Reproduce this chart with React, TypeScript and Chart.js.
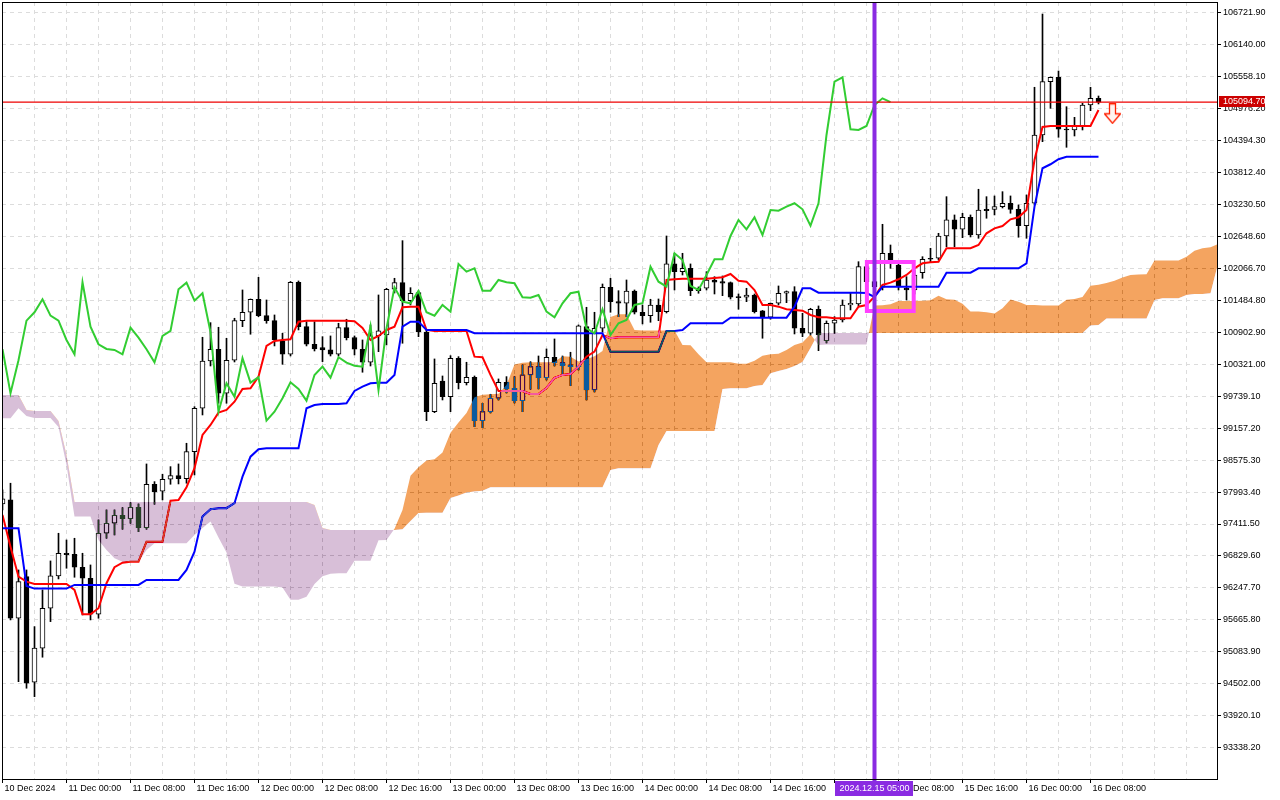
import React, { useEffect, useRef } from "react";
import { Chart, registerables } from "chart.js";

// ---------------- data (hourly BTC candles, bar index 0 = 10 Dec 16:00) ----------------
const xTickLabels = [
  "10 Dec 2024", "11 Dec 00:00", "11 Dec 08:00", "11 Dec 16:00", "12 Dec 00:00", "12 Dec 08:00",
  "12 Dec 16:00", "13 Dec 00:00", "13 Dec 08:00", "13 Dec 16:00", "14 Dec 00:00", "14 Dec 08:00",
  "14 Dec 16:00", "15 Dec 00:00", "15 Dec 08:00", "15 Dec 16:00", "16 Dec 00:00", "16 Dec 08:00",
];
const xLabelBars = [0, 8, 16, 24, 32, 40, 48, 56, 64, 72, 80, 88, 96, 104, 112, 120, 128, 136];
const xGridBars = [
  0, 4, 8, 12, 16, 20, 24, 28, 32, 36, 40, 44, 48, 52, 56, 60, 64, 68, 72, 76, 80, 84, 88, 92, 96,
  100, 104, 108, 112, 116, 120, 124, 128, 132, 136, 140, 144, 148,
];
const yTicks = [
  106721.9, 106140.0, 105558.1, 104976.2, 104394.3, 103812.4, 103230.5, 102648.6, 102066.7, 101484.8,
  100902.9, 100321.0, 99739.1, 99157.2, 98575.3, 97993.4, 97411.5, 96829.6, 96247.7, 95665.8,
  95083.9, 94502.0, 93920.1, 93338.2,
];
const yMin = 92768.3;
const yMax = 106916.7;
const xMin = -0.0625;
const xMax = 151.8125;

const opens = [
  97777, 97850, 95696, 96453, 94531, 95150, 95878, 96466, 96879, 96861,
  96624, 96424, 95769, 97243, 97425, 97571, 97509, 97717, 97345, 98135,
  98008, 98227, 98292, 98237, 98729, 99519, 100380, 100593, 99792, 100393,
  101114, 101267, 101504, 101205, 101114, 100745, 100502, 101813, 101005, 100684,
  100623, 100581, 100502, 100987, 100808, 100593, 100357, 100836, 100854, 101686,
  101806, 101478, 101624, 100908, 99457, 100016, 99730, 100430, 99985, 100084,
  99293, 99457, 99701, 99993, 99883, 99658, 100126, 100277, 100076, 100448,
  100349, 100308, 100277, 101005, 99852, 100976, 101722, 101460, 101431, 101655,
  101267, 101205, 101400, 101278, 102147, 102006, 102068, 101704, 101704, 101855,
  101824, 101806, 101551, 101540, 101582, 101291, 101176, 101431, 101613, 101642,
  100976, 100885, 101322, 100750, 101067, 101127, 101400, 101418, 102097, 101824,
  101722, 102341, 102128, 101704, 101673, 101988, 102250, 102250, 102656, 102948,
  102778, 102997, 102674, 103142, 103142, 103190, 103252, 103142, 102844, 103252,
  104495, 105466, 105546, 104599, 104586, 104659, 105041, 105163,
];
const highs = [
  98032, 98154, 96575, 96575, 95543, 96211, 96739, 97243, 97121, 97152,
  96879, 96666, 97486, 97668, 97668, 97709, 97800, 97777, 98505, 98183,
  98318, 98456, 98505, 98882, 99548, 100812, 101078, 100994, 100794, 101158,
  101673, 101509, 101904, 101491, 101218, 100885, 101828, 101837, 101096, 101096,
  100823, 100836, 101067, 101140, 100836, 100763, 101036, 101582, 101704, 101886,
  102571, 101715, 101655, 100945, 100417, 100107, 100477, 100459, 100357, 100107,
  99610, 99774, 100053, 100095, 100095, 100308, 100368, 100471, 100599, 100781,
  100471, 100539, 101036, 101358, 101267, 101782, 101886, 101660, 101855, 101673,
  101400, 101504, 101509, 102656, 102341, 102341, 102147, 101728, 102006, 101915,
  101928, 101819, 101600, 101704, 101600, 101300, 101436, 101746, 101655, 101733,
  101249, 101340, 101382, 101109, 101187, 101491, 101613, 102188, 102165, 101928,
  102869, 102492, 102183, 101915, 102037, 102279, 102432, 102705, 103372, 103039,
  103070, 103039, 103507, 103372, 103385, 103463, 103385, 103221, 103403, 105364,
  106698, 105551, 105660, 105010, 104817, 105072, 105364, 105205,
];
const lows = [
  97668, 95665, 94541, 94421, 94268, 94986, 95634, 96411, 96606, 96442,
  95756, 95665, 95696, 97152, 97212, 97316, 97425, 97272, 97316, 97771,
  97850, 98135, 98141, 98154, 98305, 99397, 100289, 99610, 99610, 100362,
  101005, 100867, 101187, 101067, 100654, 100320, 100471, 100945, 100654, 100562,
  100368, 100471, 100471, 100763, 100490, 100175, 100289, 100550, 100672, 101618,
  100703, 101400, 100823, 99293, 99439, 99670, 99457, 99871, 99943, 99184,
  99166, 99434, 99670, 99798, 99616, 99457, 99865, 99871, 100034, 100289,
  100144, 99931, 100217, 99670, 99816, 100908, 101267, 101187, 101187, 101236,
  101054, 101085, 101114, 101254, 101673, 101946, 101569, 101613, 101673, 101600,
  101569, 101509, 101322, 101460, 101254, 100794, 101140, 101400, 101442, 100872,
  100823, 100854, 100568, 100708, 100885, 101090, 101309, 101382, 101764, 101637,
  101673, 102068, 101673, 101491, 101600, 101886, 102183, 102219, 102461, 102461,
  102625, 102638, 102614, 102979, 103039, 103166, 103070, 102633, 102614, 103221,
  104373, 104981, 104453, 104271, 104477, 104586, 104938, 105060,
];
const closes = [
  97868, 95696, 96362, 94512, 95150, 95878, 96466, 96879, 96854, 96624,
  96424, 95769, 97243, 97425, 97571, 97509, 97717, 97345, 98135, 97995,
  98227, 98292, 98237, 98729, 99519, 100380, 100593, 99792, 100393, 101114,
  101267, 101504, 101205, 101114, 100763, 100502, 101813, 101005, 100684, 100599,
  100581, 100502, 100987, 100805, 100593, 100357, 100836, 100927, 101686, 101806,
  101478, 101613, 100908, 99457, 99974, 99730, 100430, 99985, 100084, 99293,
  99457, 99701, 99993, 99871, 99658, 100126, 100277, 100076, 100448, 100349,
  100295, 100277, 101018, 99852, 100976, 101722, 101460, 101431, 101655, 101267,
  101205, 101400, 101278, 102147, 102006, 102068, 101660, 101660, 101855, 101813,
  101795, 101540, 101533, 101582, 101278, 101176, 101431, 101613, 101642, 100976,
  100885, 101322, 100854, 101067, 101127, 101400, 101431, 102097, 101824, 101733,
  102341, 102219, 101746, 101673, 101946, 102232, 102232, 102656, 102948, 102778,
  102997, 102674, 103130, 103117, 103190, 103252, 103142, 102844, 103252, 104495,
  105466, 105546, 104599, 104586, 104659, 105041, 105163, 105094.7,
];

// Ichimoku lines
const tenkan = [
  97577, 96999, 96453, 96362, 96320, 96320, 96320, 96320, 96320, 96211,
  95769, 95769, 95878, 96333, 96624, 96708, 96726, 96726, 97090, 97090,
  97090, 97837, 97850, 98081, 98427, 99033, 99215, 99439, 99488, 99639,
  99871, 99883, 100095, 100654, 100745, 100763, 100776, 101096, 101114, 101114,
  101114, 101114, 101114, 101114, 101103, 100981, 100763, 100836, 100945, 101005,
  101358, 101369, 101369, 100945, 100927, 100927, 100927, 100927, 100927, 100459,
  100448, 100126, 99834, 99834, 99834, 99834, 99780, 99780, 99889, 100071,
  100126, 100144, 100277, 100459, 100550, 100854, 100794, 100812, 100812, 100812,
  100812, 100812, 100812, 101855, 101868, 101879, 101879, 101879, 101879, 101892,
  101904, 101964, 101842, 101824, 101673, 101400, 101400, 101369, 101322, 101309,
  101296, 101218, 101176, 101176, 101158, 101158, 101158, 101369, 101400, 101551,
  101764, 101806, 101868, 101946, 102068, 102159, 102177, 102188, 102432, 102432,
  102432, 102432, 102492, 102705, 102796, 102838, 102960, 102997, 103130, 104040,
  104641, 104659, 104659, 104659, 104659, 104659, 104659, 104950,
];
const kijun = [
  97334, 97334, 97334, 96284, 96235, 96235, 96235, 96235, 96235, 96302,
  96302, 96302, 96302, 96302, 96302, 96302, 96302, 96302, 96393, 96393,
  96393, 96393, 96393, 96575, 96908, 97546, 97680, 97699, 97699, 97790,
  98274, 98638, 98773, 98791, 98791, 98791, 98791, 98791, 99519, 99579,
  99598, 99598, 99598, 99610, 99834, 99913, 99974, 99985, 99985, 100126,
  101005, 101096, 101096, 100945, 100945, 100945, 100945, 100945, 100945, 100885,
  100885, 100885, 100885, 100885, 100885, 100885, 100885, 100885, 100885, 100885,
  100885, 100885, 100885, 100885, 100885, 100885, 100550, 100550, 100550, 100550,
  100550, 100550, 100550, 100927, 100927, 100945, 101067, 101067, 101067, 101067,
  101067, 101169, 101169, 101169, 101169, 101169, 101169, 101169, 101169, 101369,
  101704, 101704, 101624, 101624, 101624, 101624, 101624, 101624, 101618, 101546,
  101733, 101733, 101733, 101733, 101733, 101733, 101733, 101733, 101988, 101988,
  101988, 101988, 102068, 102068, 102068, 102068, 102068, 102068, 102159, 103190,
  103889, 103962, 104053, 104100, 104100, 104100, 104100, 104100,
];
const spanA = [
  99337, 99337, 99519, 99379, 99343, 99343, 99343, 99179, 98487, 97546,
  97546, 97546, 97121, 96939, 96788, 96726, 96726, 96726, 96939, 97061,
  97061, 97061, 97061, 97061, 97212, 97340, 97455, 97167, 96894, 96322,
  96275, 96275, 96275, 96275, 96275, 96257, 96034, 96034, 96089, 96317,
  96462, 96504, 96513, 96513, 96741, 96741, 96741, 97114, 97121, 97327,
  97668, 98288, 98447, 98569, 98592, 98714, 99071, 99261, 99434, 99721,
  99767, 99776, 99783, 99943, 100317, 100346, 100355, 100355, 100355, 100362,
  100468, 100459, 100371, 100410, 100464, 100564, 101182, 101233, 101233, 100945,
  100936, 100936, 100936, 100936, 100936, 100672, 100666, 100504, 100359, 100359,
  100359, 100359, 100331, 100331, 100386, 100477, 100504, 100513, 100581, 100672,
  100717, 100868, 100672, 100681, 100681, 100681, 100681, 100681, 100681, 101391,
  101396, 101411, 101473, 101473, 101473, 101478, 101486, 101566, 101506, 101497,
  101420, 101283, 101283, 101269, 101245, 101338, 101500, 101460, 101400, 101400,
  101391, 101391, 101391, 101497, 101509, 101547, 101748, 101770, 101800, 101839,
  101901, 101946, 101955, 101961, 102210, 102210, 102210, 102210, 102279, 102387,
  102432, 102452, 102514, 102532,
];
const spanB = [
  99761, 99761, 99761, 99488, 99470, 99470, 99470, 99288, 98669, 97813,
  97813, 97813, 97813, 97813, 97813, 97813, 97813, 97813, 97813, 97813,
  97813, 97813, 97813, 97813, 97813, 97813, 97813, 97813, 97813, 97813,
  97813, 97813, 97813, 97813, 97813, 97813, 97813, 97813, 97813, 97759,
  97340, 97303, 97303, 97303, 97303, 97303, 97303, 97303, 97303, 97303,
  97316, 97467, 97613, 97618, 97618, 97618, 97886, 97932, 97986, 98004,
  98019, 98081, 98081, 98081, 98081, 98081, 98081, 98081, 98081, 98081,
  98081, 98081, 98081, 98081, 98081, 98081, 98396, 98427, 98427, 98427,
  98427, 98427, 98851, 99106, 99106, 99106, 99106, 99106, 99106, 99106,
  99871, 99883, 99883, 99883, 99925, 99943, 100156, 100198, 100235, 100289,
  100362, 100617, 100890, 100890, 100890, 100890, 100890, 100890, 100890, 100890,
  100890, 100890, 100890, 100890, 100890, 100890, 100890, 100890, 100890, 100890,
  100890, 100890, 100890, 100890, 100890, 100890, 100890, 100890, 100890, 100890,
  100890, 100890, 100890, 100890, 100890, 100890, 101027, 101036, 101154, 101154,
  101154, 101154, 101154, 101154, 101491, 101522, 101522, 101522, 101582, 101600,
  101600, 101613, 102183, 102183,
];
const chikou = [
  100593, 99792, 100393, 101114, 101267, 101504, 101205, 101114, 100763, 100502,
  101813, 101005, 100684, 100599, 100581, 100502, 100987, 100805, 100593, 100357,
  100836, 100927, 101686, 101806, 101478, 101613, 100908, 99457, 99974, 99730,
  100430, 99985, 100084, 99293, 99457, 99701, 99993, 99871, 99658, 100126,
  100277, 100076, 100448, 100349, 100295, 100277, 101018, 99852, 100976, 101722,
  101460, 101431, 101655, 101267, 101205, 101400, 101278, 102147, 102006, 102068,
  101660, 101660, 101855, 101813, 101795, 101540, 101533, 101582, 101278, 101176,
  101431, 101613, 101642, 100976, 100885, 101322, 100854, 101067, 101127, 101400,
  101431, 102097, 101824, 101733, 102341, 102219, 101746, 101673, 101946, 102232,
  102232, 102656, 102948, 102778, 102997, 102674, 103130, 103117, 103190, 103252,
  103142, 102844, 103252, 104495, 105466, 105546, 104599, 104586, 104659, 105041,
  105163, 105094.7,
];

// chart objects
const bidPrice = 105094.7;
const markerBar = 109;
const markerLabel = "2024.12.15 05:00";
const boxBars = [108.05, 113.9];
const boxPrices = [102183, 101291];
const arrowBar = 138.75;
const arrowPrice = 104881;

const FONT = "'Liberation Sans', Arial, sans-serif";

// sets the "difference" blend for the cloud fill (MT5 style XOR look)
const cloudBlend = {
  id: "cloudBlend",
  afterDatasetDraw(chart: any, args: any) {
    const ds = chart.data.datasets[args.index];
    if (ds && ds.blendNext) chart.ctx.globalCompositeOperation = "difference";
    else chart.ctx.globalCompositeOperation = "source-over";
  },
};
Chart.register(cloudBlend as any);
Chart.register(...registerables);

const overlay = {
  id: "overlay",
  beforeDraw(chart: any) {
    const { ctx, width, height } = chart;
    ctx.save();
    ctx.fillStyle = "#ffffff";
    ctx.fillRect(0, 0, width, height);
    ctx.restore();
  },
  afterDatasetsDraw(chart: any) {
    const { ctx, chartArea } = chart;
    ctx.save();
    ctx.globalCompositeOperation = "source-over";
    ctx.strokeStyle = "#000";
    ctx.lineWidth = 1;
    ctx.strokeRect(chartArea.left + 0.5, chartArea.top + 0.5, chartArea.right - chartArea.left, chartArea.bottom - chartArea.top);
    ctx.restore();
  },
  afterDraw(chart: any) {
    const { ctx, chartArea, scales } = chart;
    ctx.save();
    ctx.globalCompositeOperation = "source-over";
    ctx.font = "9px " + FONT;
    ctx.textBaseline = "middle";
    // bid price label
    const yb = scales.y.getPixelForValue(bidPrice);
    ctx.fillStyle = "#cc0000";
    ctx.fillRect(chartArea.right + 2, Math.round(yb) - 6, 46, 11);
    ctx.fillStyle = "#ffffff";
    ctx.textAlign = "left";
    ctx.fillText(bidPrice.toFixed(2), chartArea.right + 6, Math.round(yb) - 0.5);
    // vertical line time label
    const xm = scales.x.getPixelForValue(markerBar);
    const w = ctx.measureText(markerLabel).width + 8;
    ctx.fillStyle = "#8a2be2";
    ctx.fillRect(Math.round(xm - w / 2), chartArea.bottom + 2, Math.round(w), 15);
    ctx.fillStyle = "#ffffff";
    ctx.textAlign = "center";
    ctx.fillText(markerLabel, xm, chartArea.bottom + 9.5);
    ctx.restore();
  },
};

function makeArrow() {
  const c = document.createElement("canvas");
  c.width = 17;
  c.height = 21;
  const a = c.getContext("2d") as CanvasRenderingContext2D;
  a.beginPath();
  a.moveTo(5.5, 0.5);
  a.lineTo(11.5, 0.5);
  a.lineTo(11.5, 10.5);
  a.lineTo(16.5, 10.5);
  a.lineTo(8.5, 20);
  a.lineTo(0.5, 10.5);
  a.lineTo(5.5, 10.5);
  a.closePath();
  a.fillStyle = "#fff4f0";
  a.fill();
  a.strokeStyle = "#ff2000";
  a.lineWidth = 1.3;
  a.stroke();
  return c;
}

const pts = (arr: number[], start = 0) => arr.map((v, i) => ({ x: i + start, y: v }));

export default function App() {
  const ref = useRef<HTMLCanvasElement>(null);

  useEffect(() => {
    document.body.style.margin = "0";
    document.body.style.background = "#ffffff";
    const canvas = ref.current;
    if (!canvas) return;
    const arrow = makeArrow();

    const datasets: any[] = [
      {
        type: "bar",
        label: "wicks",
        data: lows.map((l, i) => ({ x: i, y: [l, highs[i]] })),
        backgroundColor: "#000000",
        borderWidth: 0,
        barThickness: 1,
        grouped: false,
        order: 100,
      },
      {
        type: "bar",
        label: "bodies",
        data: opens.map((o, i) => ({ x: i, y: [o, closes[i]] })),
        backgroundColor: (c: any) => (closes[c.dataIndex] >= opens[c.dataIndex] ? "#ffffff" : "#000000"),
        borderColor: "#000000",
        borderWidth: 1,
        borderSkipped: false,
        barThickness: 5,
        minBarLength: 1,
        grouped: false,
        order: 90,
      },
      {
        type: "line",
        label: "Tenkan-sen",
        data: pts(tenkan),
        borderColor: "#ff0000",
        borderWidth: 2,
        pointRadius: 0,
        fill: false,
        order: 80,
      },
      {
        type: "line",
        label: "Kijun-sen",
        data: pts(kijun),
        borderColor: "#0000ff",
        borderWidth: 2,
        pointRadius: 0,
        fill: false,
        order: 79,
        blendNext: true,
      },
      {
        type: "line",
        label: "Senkou Span A",
        data: pts(spanA),
        borderColor: "rgba(0,0,0,0)",
        borderWidth: 1,
        pointRadius: 0,
        fill: { target: "+1", above: "rgb(11,91,159)", below: "rgb(39,64,39)" },
        order: 70,
      },
      {
        type: "line",
        label: "Senkou Span B",
        data: pts(spanB),
        borderColor: "rgba(0,0,0,0)",
        borderWidth: 1,
        pointRadius: 0,
        fill: false,
        order: 69,
      },
      {
        type: "line",
        label: "Chikou Span",
        data: pts(chikou),
        borderColor: "#32cd32",
        borderWidth: 2,
        pointRadius: 0,
        fill: false,
        order: 60,
      },
      {
        type: "line",
        label: "bid",
        data: [{ x: xMin - 1, y: bidPrice }, { x: xMax + 1, y: bidPrice }],
        borderColor: "#ee0000",
        borderWidth: 1.3,
        pointRadius: 0,
        fill: false,
        order: 50,
      },
      {
        type: "line",
        label: "rect",
        data: [
          { x: boxBars[0], y: boxPrices[0] },
          { x: boxBars[1], y: boxPrices[0] },
          { x: boxBars[1], y: boxPrices[1] },
          { x: boxBars[0], y: boxPrices[1] },
          { x: boxBars[0], y: boxPrices[0] },
        ],
        borderColor: "#ff40ff",
        borderWidth: 4,
        borderJoinStyle: "miter",
        borderCapStyle: "square",
        pointRadius: 0,
        fill: false,
        order: 40,
      },
      {
        type: "line",
        label: "vline",
        data: [{ x: markerBar, y: yMin - 5000 }, { x: markerBar, y: yMax + 5000 }],
        borderColor: "#8a2be2",
        borderWidth: 4,
        pointRadius: 0,
        fill: false,
        clip: { left: 3, top: 0, right: 3, bottom: 3 },
        order: 30,
      },
      {
        type: "line",
        label: "sell arrow",
        data: [{ x: arrowBar, y: arrowPrice }],
        showLine: false,
        pointStyle: arrow,
        pointRadius: 6,
        order: 20,
      },
    ];

    const gridColor = "#dcdcdc";
    const isLabelBar = (v: number) => xLabelBars.indexOf(v) >= 0;

    const chart = new Chart(canvas, {
      type: "line",
      data: { datasets },
      plugins: [overlay as any],
      options: {
        responsive: false,
        maintainAspectRatio: false,
        animation: false,
        devicePixelRatio: 1,
        events: [],
        layout: { autoPadding: false, padding: { left: 2, top: 2, right: 0, bottom: 0 } },
        plugins: { legend: { display: false }, tooltip: { enabled: false } },
        scales: {
          x: {
            type: "linear",
            position: "bottom",
            min: xMin,
            max: xMax,
            offset: false,
            afterBuildTicks: (s: any) => {
              s.ticks = xGridBars.map((v) => ({ value: v }));
            },
            afterFit: (s: any) => {
              s.height = 21;
              s.paddingLeft = 0;
              s.paddingRight = 0;
            },
            ticks: {
              autoSkip: false,
              maxRotation: 0,
              minRotation: 0,
              align: "start",
              labelOffset: 2,
              padding: 0,
              color: "#000",
              font: { family: FONT, size: 9 },
              callback: (v: any) => {
                const k = xLabelBars.indexOf(Number(v));
                return k >= 0 ? xTickLabels[k] : "";
              },
            },
            grid: {
              offset: false,
              color: gridColor,
              lineWidth: 1,
              tickLength: 4,
              tickBorderDash: [],
              tickColor: (c: any) => (c.tick && isLabelBar(c.tick.value) ? "#000" : "rgba(0,0,0,0)"),
            },
            border: { display: true, color: "#000", width: 1, dash: [4, 4] },
          } as any,
          y: {
            type: "linear",
            position: "right",
            min: yMin,
            max: yMax,
            beginAtZero: false,
            afterBuildTicks: (s: any) => {
              s.ticks = yTicks.map((v) => ({ value: v }));
            },
            afterFit: (s: any) => {
              s.width = 63;
              s.paddingTop = 0;
              s.paddingBottom = 0;
            },
            ticks: {
              autoSkip: false,
              padding: 2,
              color: "#000",
              font: { family: FONT, size: 9 },
              callback: (v: any) => Number(v).toFixed(2),
            },
            grid: {
              color: gridColor,
              lineWidth: 1,
              tickLength: 4,
              tickBorderDash: [],
              tickColor: "#000",
            },
            border: { display: true, color: "#000", width: 1, dash: [4, 4] },
          } as any,
        },
      } as any,
    });

    return () => {
      chart.destroy();
    };
  }, []);

  return (
    <div style={{ width: 1280, height: 800, overflow: "hidden", background: "#fff" }}>
      <canvas ref={ref} width={1280} height={800} style={{ display: "block", width: 1280, height: 800 }} />
    </div>
  );
}
